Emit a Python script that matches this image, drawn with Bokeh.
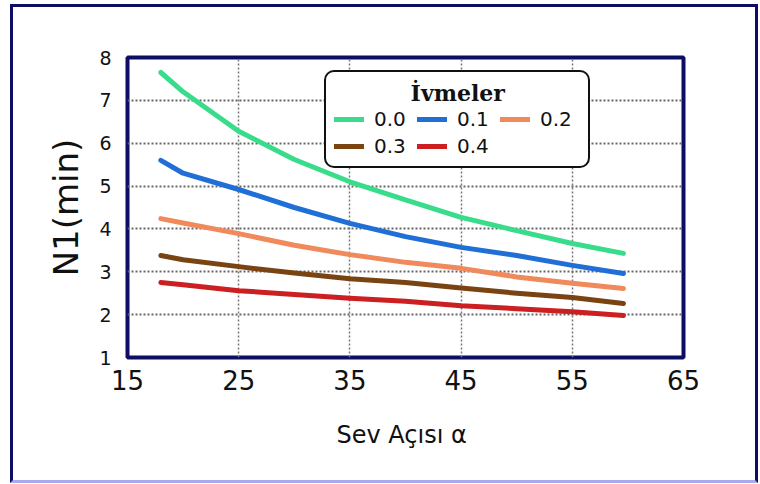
from bokeh.plotting import figure
from bokeh.models import FixedTicker, Legend, LegendItem
from bokeh.embed import file_html
from bokeh.resources import INLINE

# ---- data ----
x_vals = [18.0, 20.0, 25.0, 30.0, 35.0, 40.0, 45.0, 50.0, 55.0, 59.6]
s00 = [7.65, 7.20, 6.28, 5.62, 5.10, 4.68, 4.27, 3.96, 3.66, 3.43]
s01 = [5.60, 5.30, 4.92, 4.50, 4.13, 3.82, 3.57, 3.38, 3.15, 2.96]
s02 = [4.24, 4.14, 3.89, 3.62, 3.40, 3.22, 3.08, 2.88, 2.73, 2.61]
s03 = [3.38, 3.28, 3.12, 2.97, 2.84, 2.75, 2.62, 2.50, 2.40, 2.26]
s04 = [2.75, 2.70, 2.56, 2.47, 2.38, 2.31, 2.21, 2.14, 2.07, 1.98]
series_labels = ["0.0", "0.1", "0.2", "0.3", "0.4"]
series_values = [s00, s01, s02, s03, s04]
colors = ["#38dc8a", "#1f6fd6", "#f08a5c", "#7a4312", "#cc1f22"]
x_ticks = [15, 25, 35, 45, 55, 65]
y_ticks = [1, 2, 3, 4, 5, 6, 7, 8]
legend_title = "İvmeler"

NAVY = "#0d0d66"

p = figure(
    frame_width=556, frame_height=300,
    x_range=(15, 65), y_range=(1, 8),
    output_backend="svg", toolbar_location=None,
    min_border_left=114, min_border_top=50,
    min_border_right=72, min_border_bottom=123,
    background_fill_color="white", border_fill_color="white",
)
p.styles = {
    "margin-left": "10px",
    "margin-top": "4px",
    "border-left": "3px solid " + NAVY,
    "border-top": "3px solid " + NAVY,
    "border-right": "3px solid " + NAVY,
    "border-bottom": "3px solid #a9a9f0",
}

p.outline_line_color = NAVY
p.outline_line_width = 4
p.outline_line_alpha = 1

p.xaxis.ticker = FixedTicker(ticks=x_ticks)
p.yaxis.ticker = FixedTicker(ticks=y_ticks)
for ax in (p.xaxis, p.yaxis):
    ax.axis_line_color = None
    ax.major_tick_line_color = None
    ax.minor_tick_line_color = None
    ax.major_label_text_font = "DejaVu Sans"
    ax.major_label_text_color = "#111111"
    ax.axis_label_text_font = "DejaVu Sans"
    ax.axis_label_text_font_style = "normal"
    ax.axis_label_text_color = "#111111"

p.xaxis.major_label_text_font_size = "26px"
p.xaxis.major_label_standoff = 6
p.xaxis.axis_label = "Sev Açısı  α"
p.xaxis.axis_label_text_font_size = "24px"
p.xaxis.axis_label_standoff = 28

p.yaxis.major_label_text_font_size = "19px"
p.yaxis.major_label_standoff = 10
p.yaxis.axis_label = "N1(min)"
p.yaxis.axis_label_text_font_size = "34px"
p.yaxis.axis_label_standoff = 10

p.xgrid.grid_line_color = "#777777"
p.xgrid.grid_line_dash = "2 2"
p.xgrid.grid_line_width = 1.5
p.ygrid.grid_line_color = "#666666"
p.ygrid.grid_line_dash = "2 2"
p.ygrid.grid_line_width = 2

items = []
for lab, ys, c in zip(series_labels, series_values, colors):
    r = p.line(x_vals, ys, line_color=c, line_width=5, line_join="round", line_cap="round")
    items.append(LegendItem(label=lab, renderers=[r]))

legend = Legend(
    items=items,
    orientation="horizontal",
    ncols=3,
    location=(197, 189),
    title="\u00a0" * 10 + legend_title,
    title_text_font="DejaVu Serif",
    title_text_font_style="bold",
    title_text_font_size="22px",
    title_text_color="#111111",
    title_standoff=1,
    label_text_font="DejaVu Sans",
    label_text_font_size="20px",
    label_text_color="#111111",
    glyph_width=30,
    glyph_height=20,
    label_standoff=10,
    label_width=40,
    spacing=3,
    padding=8,
    margin=0,
    border_line_color="#111111",
    border_line_width=2,
    border_line_alpha=1,
    background_fill_color="white",
    background_fill_alpha=1,
)
try:
    legend.border_radius = 10
except Exception:
    pass
p.add_layout(legend, "center")

open("out.html", "w").write(file_html(p, INLINE))
